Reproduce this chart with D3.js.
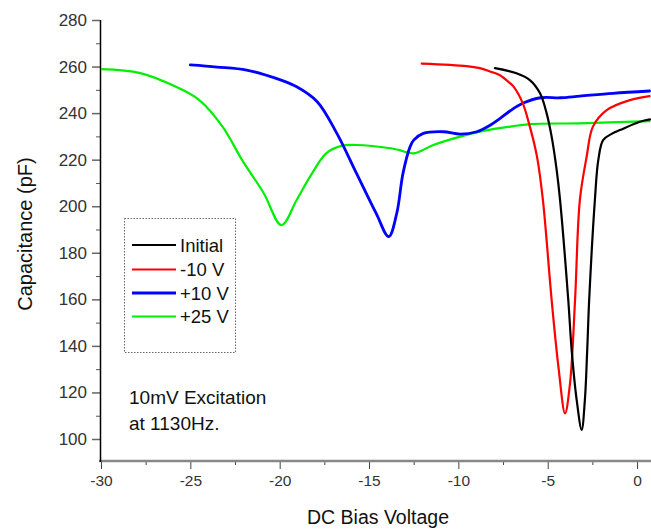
<!DOCTYPE html>
<html><head><meta charset="utf-8">
<script src="https://cdn.jsdelivr.net/npm/d3@7"></script>
<style>body{margin:0;background:#fff}svg{display:block;font-family:"Liberation Sans",Arial,sans-serif}</style>
</head><body>
<script>
const seriesNames = ["Initial", "-10 V", "+10 V", "+25 V"];
const seriesColors = ["#000000", "#ff0000", "#0000ff", "#00ee00"];
const initialX = [-7.95,-6.75,-6.0,-5.43,-5.06,-4.78,-4.5,-4.31,-3.85,-3.66,-3.38,-3.1,-2.92,-2.79,-2.68,-2.36,-2.17,-1.9,-1.4,-0.96,0.16,0.72];
const initialY = [259.3,257.1,254.2,248.5,239.9,229.9,215.6,202.7,159.7,138.2,116.8,103.9,116.8,138.2,159.7,202.7,219.8,228.4,231.2,232.7,236.3,237.3];
const minus10X = [-12.05,-9.54,-8.8,-8.2,-7.7,-7.1,-6.9,-6.4,-6.0,-5.6,-5.27,-4.78,-4.4,-4.03,-3.75,-3.47,-3.2,-2.82,-2.47,-1.7,-0.4,0.7];
const minus10Y = [261.3,260.2,259.3,257.8,256.4,252.8,251.3,244.3,234.2,221.3,202.7,159.7,131,111,124,159.7,202.7,221.3,234.2,241.3,245.6,247.3];
const plus10X = [-25,-23.5,-21.85,-20.2,-19.05,-17.9,-16.8,-15.7,-14.6,-13.9,-13.45,-13.1,-12.7,-12.5,-11.96,-10.85,-9.9,-8.97,-8.2,-7.7,-7.1,-6.4,-5.4,-4.3,-3.2,-1.35,0.7];
const plus10Y = [260.7,259.8,258.5,254.9,251.3,244.9,231.3,214.1,196.9,186.9,196.9,214.1,225.6,228.4,231.3,232,231,232,234.9,237.5,241,244.2,246.6,246.6,247.3,248.5,249.5];
const plus25X = [-30,-27.8,-25.8,-24.5,-23.2,-22.1,-20.9,-19.9,-19.05,-18.3,-17.4,-16.6,-15.7,-13.8,-13.3,-12.5,-11.4,-9.9,-8.4,-7.1,-6.0,-3.2,0.7];
const plus25Y = [258.9,257.2,251.3,245.6,234.2,219.8,205.7,191.9,202.7,212.7,222.7,225.8,226.3,224.9,224.1,222.7,226.3,229.9,232.7,234.2,235.3,235.6,236.6];
const xTicks = [-30,-25,-20,-15,-10,-5,0];
const yTicks = [100,120,140,160,180,200,220,240,260,280];
const annotation = ["10mV Excitation", "at 1130Hz."];

const W = 651, H = 529;
const svg = d3.select("body").append("svg").attr("width", W).attr("height", H);
const x = d3.scaleLinear().domain([-30, 0.78]).range([101, 651]);
const y = d3.scaleLinear().domain([90.55, 280]).range([461, 20]);

svg.append("defs").append("clipPath").attr("id","clip")
  .append("rect").attr("x",101).attr("y",10).attr("width",550).attr("height",451);

// x axis
const xMinor = d3.range(-27.5, 1, 5);
const gx = svg.append("g").attr("transform","translate(0,461)");
gx.call(d3.axisBottom(x).tickValues(xMinor).tickSize(4).tickFormat(""));
gx.call(g=>g.selectAll(".tick line").attr("stroke","#444"));
const gx2 = svg.append("g").attr("transform","translate(0,461)");
gx2.call(d3.axisBottom(x).tickValues(xTicks).tickSize(8).tickPadding(6).tickFormat(d=>d));
gx2.selectAll(".tick text").attr("font-size","15.5px").attr("fill","#333").attr("font-family","Liberation Sans, Arial, sans-serif");
gx2.selectAll(".tick line").attr("stroke","#444");
svg.selectAll(".domain").remove();
svg.append("line").attr("x1",99).attr("x2",651).attr("y1",461).attr("y2",461).attr("stroke","#888").attr("stroke-width",2.5);

// y axis
const yMinor = d3.range(110, 280, 20);
const gy = svg.append("g").attr("transform","translate(100,0)");
gy.call(d3.axisLeft(y).tickValues(yMinor).tickSize(4).tickFormat(""));
gy.selectAll(".tick line").attr("stroke","#555");
const gy2 = svg.append("g").attr("transform","translate(100,0)");
gy2.call(d3.axisLeft(y).tickValues(yTicks).tickSize(8).tickPadding(5));
gy2.selectAll(".tick text").attr("font-size","17px").attr("fill","#333").attr("font-family","Liberation Sans, Arial, sans-serif");
gy2.selectAll(".tick line").attr("stroke","#666").attr("stroke-width",1.5);
gy.select(".domain").remove(); gy2.select(".domain").remove();
svg.append("line").attr("x1",100.5).attr("x2",100.5).attr("y1",20).attr("y2",462).attr("stroke","#000").attr("stroke-width",1.5);

// axis titles
svg.append("text").attr("x",378).attr("y",524).attr("text-anchor","middle")
  .attr("font-size","19.5px").attr("fill","#111").text("DC Bias Voltage");
svg.append("text").attr("transform","translate(32,234) rotate(-90)").attr("text-anchor","middle")
  .attr("font-size","20px").attr("fill","#111").text("Capacitance (pF)");

// curves
const series = [[initialX, initialY],[minus10X, minus10Y],[plus10X, plus10Y],[plus25X, plus25Y]];
const line = d3.line().x(d=>x(d[0])).y(d=>y(d[1])).curve(d3.curveCatmullRom.alpha(0.5));
const order = [3,2,1,0];
const gc = svg.append("g").attr("clip-path","url(#clip)");
order.forEach(i=>{
  const pts = series[i][0].map((v,k)=>[v, series[i][1][k]]);
  gc.append("path").attr("d", line(pts)).attr("fill","none")
    .attr("stroke", seriesColors[i]).attr("stroke-width", i===2 ? 2.8 : 2.2)
    .attr("stroke-linejoin","round").attr("stroke-linecap","round");
});

// legend
const lg = svg.append("g");
lg.append("rect").attr("x",124.5).attr("y",218.5).attr("width",111).attr("height",134)
  .attr("fill","#fff").attr("stroke","#666").attr("stroke-dasharray","1.5,1.5").attr("stroke-width",1);
const rowY = [245, 269.5, 293, 316.5];
seriesNames.forEach((n,i)=>{
  lg.append("line").attr("x1",132).attr("x2",176).attr("y1",rowY[i]).attr("y2",rowY[i])
    .attr("stroke",seriesColors[i]).attr("stroke-width", i===2 ? 2.8 : 2.2);
  lg.append("text").attr("x",180).attr("y",rowY[i]+6.5).attr("font-size","18.5px").attr("fill","#111").text(n);
});

// annotation
annotation.forEach((t,i)=>{
  svg.append("text").attr("x",129).attr("y",404 + i*26).attr("font-size","19px").attr("fill","#111").text(t);
});
</script>
</body></html>
